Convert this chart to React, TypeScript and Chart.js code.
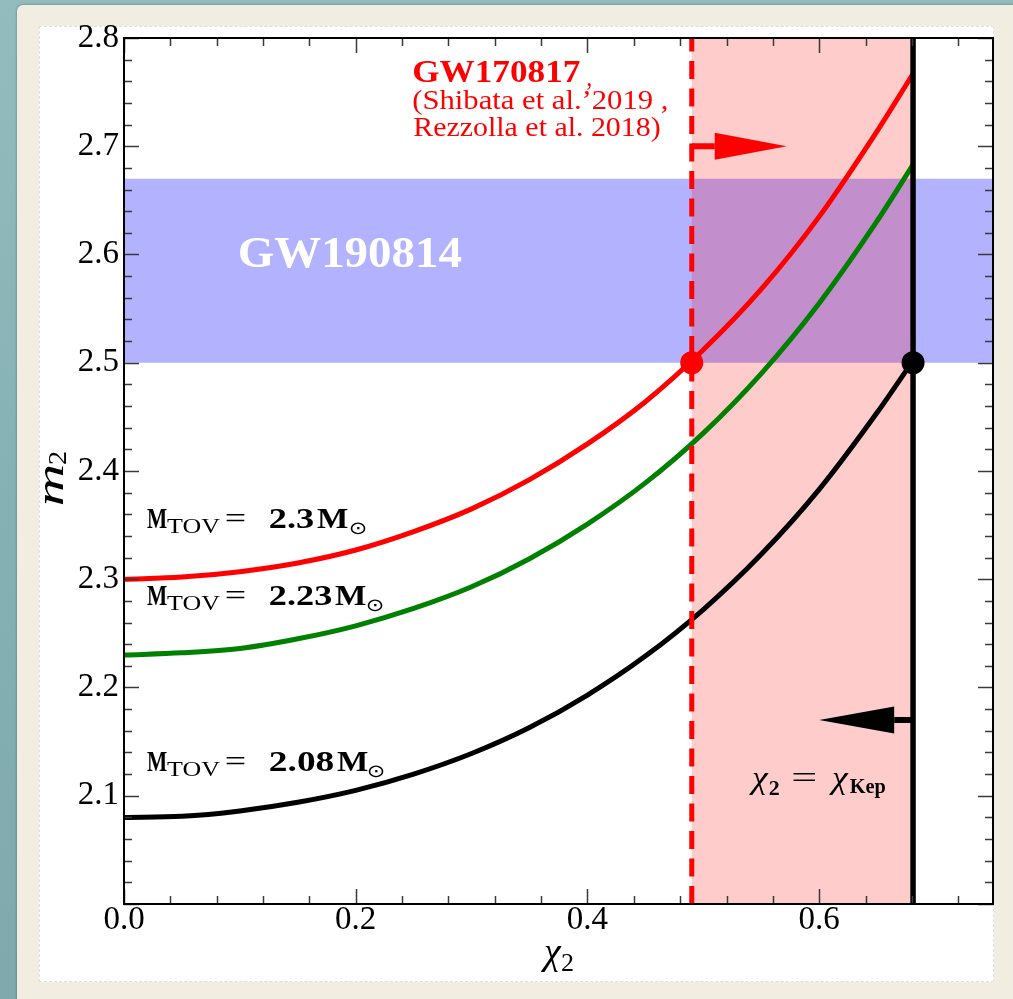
import React, { useEffect, useRef } from "react";
import { Chart, registerables } from "chart.js";

Chart.register(...registerables);

// ---------- data ----------
const chi = [0, 0.05, 0.1, 0.15, 0.2, 0.25, 0.3, 0.35, 0.4, 0.45, 0.5, 0.55, 0.6, 0.65, 0.681];
const m2Red = [2.3, 2.302, 2.307, 2.315, 2.327, 2.344, 2.365, 2.392, 2.425, 2.464, 2.512, 2.568, 2.635, 2.714, 2.767];
const m2Green = [2.23, 2.232, 2.236, 2.245, 2.257, 2.273, 2.293, 2.319, 2.351, 2.389, 2.435, 2.49, 2.555, 2.631, 2.683];
const m2Black = [2.08, 2.081, 2.086, 2.094, 2.105, 2.12, 2.139, 2.163, 2.193, 2.229, 2.272, 2.323, 2.383, 2.454, 2.502];

const xTickValues = [0, 0.2, 0.4, 0.6];
const yTickValues = [2.1, 2.2, 2.3, 2.4, 2.5, 2.6, 2.7, 2.8];

const chiGW170817 = 0.49;
const chiKep = 0.681;
const gw190814Band = [2.5, 2.67];
const dotRed = { x: 0.49, y: 2.5 };
const dotBlack = { x: 0.681, y: 2.5 };
const arrowRed = { from: 0.49, to: 0.572, y: 2.7 };
const arrowBlack = { from: 0.681, to: 0.6, y: 2.17 };

const X_MIN = 0, X_MAX = 0.75, Y_MIN = 2.0, Y_MAX = 2.8;

const SERIF = '"Liberation Serif", "DejaVu Serif", serif';
const SYM = '"DejaVu Sans", "DejaVu Serif", sans-serif';

function seg(ctx: CanvasRenderingContext2D, t: string, font: string, x: number, y: number, w: number, color: string) {
  ctx.font = font;
  const m = ctx.measureText(t);
  const ink = m.actualBoundingBoxLeft + m.actualBoundingBoxRight;
  const sx = w && ink > 0 ? w / ink : 1;
  ctx.save();
  ctx.translate(x, y);
  ctx.scale(sx, 1);
  ctx.fillStyle = color;
  ctx.textAlign = "left";
  ctx.textBaseline = "alphabetic";
  ctx.fillText(t, m.actualBoundingBoxLeft, 0);
  ctx.restore();
}

function arrow(ctx: CanvasRenderingContext2D, x0: number, x1: number, y: number, headLen: number, halfW: number, shaftW: number, color: string) {
  const dir = Math.sign(x1 - x0);
  const base = x1 - dir * headLen;
  ctx.save();
  ctx.fillStyle = color;
  ctx.fillRect(Math.min(x0, base), y - shaftW / 2, Math.abs(base - x0), shaftW);
  ctx.beginPath();
  ctx.moveTo(x1, y);
  ctx.lineTo(base, y - halfW);
  ctx.lineTo(base, y + halfW);
  ctx.closePath();
  ctx.fill();
  ctx.restore();
}

function mtovLabel(ctx: CanvasRenderingContext2D, x: number, y: number, val: string, valW: number, mX: number, oX: number) {
  const c = "#000";
  seg(ctx, "M", `bold 30px ${SERIF}`, x, y, 20, c);
  seg(ctx, "TOV", `22px ${SERIF}`, x + 20, y + 5, 53, c);
  seg(ctx, "=", `30px ${SERIF}`, x + 79, y, 19, c);
  seg(ctx, val, `bold 30px ${SERIF}`, x + 123, y, valW, c);
  seg(ctx, "M", `bold 30px ${SERIF}`, x + mX, y, 31, c);
  seg(ctx, "\u2299", `18px ${SYM}`, x + oX, y + 6, 16, c);
}

const annotPlugin = {
  id: "annot",
  beforeDatasetsDraw(chart: any) {
    const { ctx, chartArea: a, scales } = chart;
    const xs = scales.x, ys = scales.y;
    ctx.save();
    ctx.fillStyle = "rgba(0,0,255,0.3)";
    const yb0 = ys.getPixelForValue(gw190814Band[1]);
    const yb1 = ys.getPixelForValue(gw190814Band[0]);
    ctx.fillRect(a.left, yb0, a.right - a.left, yb1 - yb0);
    ctx.fillStyle = "rgba(255,0,0,0.2)";
    const xp0 = xs.getPixelForValue(chiGW170817);
    const xp1 = xs.getPixelForValue(chiKep);
    ctx.fillRect(xp0, a.top, xp1 - xp0, a.bottom - a.top);
    seg(ctx, "GW190814", `bold 44px ${SERIF}`, xs.getPixelForValue(0.1), ys.getPixelForValue(2.5885), 222, "#fff");
    ctx.restore();
  },
  afterDatasetsDraw(chart: any) {
    const { ctx, chartArea: a, scales } = chart;
    const xs = scales.x, ys = scales.y;
    ctx.save();
    // inward ticks on all four sides
    ctx.strokeStyle = "#3a3a3a";
    ctx.lineWidth = 1.5;
    ctx.beginPath();
    for (let i = 0; i * 0.04 <= X_MAX + 1e-9; i++) {
      const v = i * 0.04;
      const len = i % 5 === 0 ? 15 : 8;
      const px = Math.round(xs.getPixelForValue(v)) + 0.5;
      ctx.moveTo(px, a.bottom);
      ctx.lineTo(px, a.bottom - len);
      ctx.moveTo(px, a.top);
      ctx.lineTo(px, a.top + len);
    }
    for (let i = 0; Y_MIN + i * 0.02 <= Y_MAX + 1e-9; i++) {
      const v = Y_MIN + i * 0.02;
      const len = i % 5 === 0 ? 15 : 8;
      const py = Math.round(ys.getPixelForValue(v)) + 0.5;
      ctx.moveTo(a.left, py);
      ctx.lineTo(a.left + len, py);
      ctx.moveTo(a.right, py);
      ctx.lineTo(a.right - len, py);
    }
    ctx.stroke();
    ctx.strokeStyle = "#000";
    ctx.lineWidth = 2;
    ctx.strokeRect(a.left, a.top, a.right - a.left, a.bottom - a.top);

    arrow(ctx, xs.getPixelForValue(arrowRed.from), xs.getPixelForValue(arrowRed.to), ys.getPixelForValue(arrowRed.y), 72, 13.5, 6, "#ff0000");
    arrow(ctx, xs.getPixelForValue(arrowBlack.from), xs.getPixelForValue(arrowBlack.to), ys.getPixelForValue(arrowBlack.y), 75, 13.5, 6, "#000");

    // red reference text
    const rx = xs.getPixelForValue(0.2497);
    seg(ctx, "GW170817", `bold 32px ${SERIF}`, rx, ys.getPixelForValue(2.7594), 167, "#ff0000");
    seg(ctx, ",", `28px ${SERIF}`, rx + 174, ys.getPixelForValue(2.7594) + 4, 4, "#ff0000");
    seg(ctx, "(Shibata et al.\u20192019 ,", `28px ${SERIF}`, rx, ys.getPixelForValue(2.7363) + 2, 254, "#ff0000");
    seg(ctx, "Rezzolla et al. 2018)", `28px ${SERIF}`, rx, ys.getPixelForValue(2.7104) + 1, 247, "#ff0000");

    // M_TOV labels
    const lx = xs.getPixelForValue(0.0199);
    mtovLabel(ctx, lx, ys.getPixelForValue(2.3473), "2.3", 43, 170, 203);
    mtovLabel(ctx, lx, ys.getPixelForValue(2.2762), "2.23", 61, 188, 220);
    mtovLabel(ctx, lx, ys.getPixelForValue(2.1229), "2.08", 63, 190, 221);

    // chi_2 = chi_Kep
    const kx = xs.getPixelForValue(0.5391);
    const ky = ys.getPixelForValue(2.1072);
    seg(ctx, "\u03c7", `italic 32px ${SERIF}`, kx, ky, 20, "#000");
    seg(ctx, "2", `bold 20px ${SERIF}`, kx + 20, ky + 7, 11, "#000");
    seg(ctx, "=", `32px ${SERIF}`, kx + 44, ky, 23, "#000");
    seg(ctx, "\u03c7", `italic 32px ${SERIF}`, kx + 80, ky, 20, "#000");
    seg(ctx, "Kep", `bold 20px ${SERIF}`, kx + 101, ky + 5, 36, "#000");

    // axis titles
    seg(ctx, "\u03c7", `italic 38px ${SERIF}`, 540, 964, 22, "#000");
    seg(ctx, "2", `26px ${SERIF}`, 562, 971, 11, "#000");
    ctx.save();
    ctx.translate(63, 505);
    ctx.rotate(-Math.PI / 2);
    seg(ctx, "m", `italic 38px ${SERIF}`, 0, 0, 39, "#000");
    seg(ctx, "2", `26px ${SERIF}`, 41, 3, 12, "#000");
    ctx.restore();
    ctx.restore();
  },
};

export default function App() {
  const ref = useRef<HTMLCanvasElement | null>(null);
  useEffect(() => {
    const canvas = ref.current;
    if (!canvas) return;
    const pts = (ys: number[]) => chi.map((x, i) => ({ x, y: ys[i] }));
    const tickFont = { family: SERIF, size: 33, lineHeight: 1 };
    const chart = new Chart(canvas, {
      type: "line",
      data: {
        datasets: [
          { data: [dotRed], showLine: false, pointRadius: 11.5, pointBackgroundColor: "#ff0000", pointBorderWidth: 0, order: 0 } as any,
          { data: [dotBlack], showLine: false, pointRadius: 11.5, pointBackgroundColor: "#000", pointBorderWidth: 0, order: 0 } as any,
          { data: [{ x: chiGW170817, y: Y_MIN }, { x: chiGW170817, y: Y_MAX }], borderColor: "#ff0000", borderWidth: 5, borderDash: [18, 9.5], borderCapStyle: "butt", pointRadius: 0, order: 1 } as any,
          { data: [{ x: chiKep, y: Y_MIN }, { x: chiKep, y: Y_MAX }], borderColor: "#000", borderWidth: 5.5, pointRadius: 0, order: 1 } as any,
          { data: pts(m2Red), borderColor: "#ff0000", borderWidth: 5, pointRadius: 0, cubicInterpolationMode: "monotone", order: 2 } as any,
          { data: pts(m2Green), borderColor: "#008000", borderWidth: 5, pointRadius: 0, cubicInterpolationMode: "monotone", order: 2 } as any,
          { data: pts(m2Black), borderColor: "#000", borderWidth: 5, pointRadius: 0, cubicInterpolationMode: "monotone", order: 2 } as any,
        ],
      },
      options: {
        responsive: false,
        animation: false,
        devicePixelRatio: 1,
        layout: { padding: { left: 0, top: 38, right: 20, bottom: 0 } },
        plugins: { legend: { display: false }, tooltip: { enabled: false } },
        scales: {
          x: {
            type: "linear",
            min: X_MIN,
            max: X_MAX,
            grid: { display: false, drawTicks: false },
            border: { display: false },
            ticks: { font: tickFont, color: "#000", padding: 0, autoSkip: false, maxRotation: 0, callback: (v: any) => Number(v).toFixed(1) },
            afterBuildTicks: (ax: any) => { ax.ticks = xTickValues.map((value) => ({ value })); },
            afterFit: (ax: any) => { ax.height = 95; },
          },
          y: {
            type: "linear",
            min: Y_MIN,
            max: Y_MAX,
            grid: { display: false, drawTicks: false },
            border: { display: false },
            ticks: { font: tickFont, color: "#000", padding: 5, autoSkip: false, callback: (v: any) => Number(v).toFixed(1) },
            afterBuildTicks: (ax: any) => { ax.ticks = yTickValues.map((value) => ({ value })); },
            afterFit: (ax: any) => { ax.width = 124; },
          },
        },
      } as any,
      plugins: [annotPlugin],
    });
    return () => chart.destroy();
  }, []);

  return (
    <div style={{ position: "fixed", left: 0, top: 0, width: 1013, height: 999, overflow: "hidden", background: "linear-gradient(180deg, #93bcbe 0%, #86b1b4 50%, #7fa9ac 100%)" }}>
      <div style={{ position: "absolute", left: 17, top: 5, width: 1013, height: 1010, background: "#f1ede0", borderRadius: 6, boxShadow: "0 0 3px rgba(0,0,0,0.35)" }} />
      <div style={{ position: "absolute", left: 39, top: 26, width: 955, height: 956, background: "#fff", boxSizing: "border-box", border: "1px dashed rgba(0,0,0,0.12)" }} />
      <canvas ref={ref} width={1013} height={999} style={{ position: "absolute", left: 0, top: 0, width: 1013, height: 999 }} />
    </div>
  );
}
